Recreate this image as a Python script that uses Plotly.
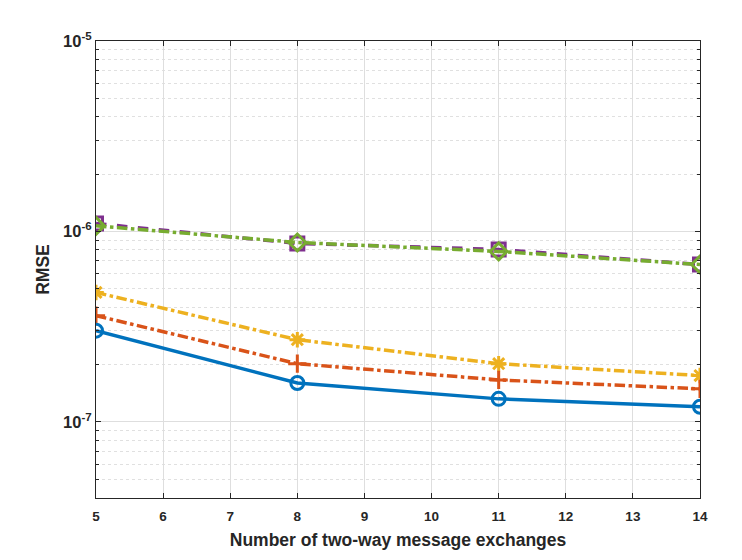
import plotly.graph_objects as go

exchanges = [5, 8, 11, 14]
rmse_blue = [3.01e-7, 1.60e-7, 1.32e-7, 1.20e-7]
rmse_orange = [3.61e-7, 2.02e-7, 1.66e-7, 1.49e-7]
rmse_yellow = [4.78e-7, 2.70e-7, 2.02e-7, 1.75e-7]
rmse_purple = [1.10e-6, 8.65e-7, 8.04e-7, 6.70e-7]
rmse_green = [1.07e-6, 8.75e-7, 7.85e-7, 6.70e-7]

y_tickvals = [1e-7, 1e-6, 1e-5]
y_ticktext = ["10<sup>-7</sup>", "10<sup>-6</sup>", "10<sup>-5</sup>"]

series = [
    (rmse_purple, "#7E2F8E", "dash", "square-open"),
    (rmse_green, "#77AC30", "dashdot", "diamond-open"),
    (rmse_yellow, "#EDB120", "dashdot", "asterisk-open"),
    (rmse_orange, "#D95319", "dashdot", "cross-thin-open"),
    (rmse_blue, "#0072BD", "solid", "circle-open"),
]

fig = go.Figure()
for vals, color, dash, symbol in series:
    fig.add_trace(go.Scatter(
        x=exchanges, y=vals, mode="lines+markers",
        line=dict(color=color, width=3.5, dash=dash),
        marker=dict(symbol=symbol, size=13, color=color,
                    line=dict(color=color, width=3)),
        showlegend=False,
    ))

family = "Liberation Sans, Arial, sans-serif"
# the page body adds an 8px margin, so the figure is sized to fit inside it
fig.update_layout(
    width=734, height=552,
    margin=dict(l=88, r=42, t=33, b=62),
    paper_bgcolor="white", plot_bgcolor="white",
    font=dict(size=13, family=family, color="#262626"),
)
fig.update_xaxes(
    range=[5, 14], dtick=1,
    title=dict(text="<b>Number of two-way message exchanges</b>", font=dict(size=17.5), standoff=10),
    tickfont=dict(size=13.5, family=family, color="#262626", weight="bold"),
    ticklabelstandoff=6,
    showline=True, linecolor="#262626", linewidth=1, mirror="ticks",
    ticks="inside", ticklen=5, tickcolor="#262626",
    showgrid=True, gridcolor="#dedede", gridwidth=1, zeroline=False,
)
fig.update_yaxes(
    type="log", range=[-7.4, -5],
    tickvals=y_tickvals, ticktext=y_ticktext,
    title=dict(text="<b>RMSE</b>", font=dict(size=17.5), standoff=8),
    tickfont=dict(size=16.5, family=family, color="#262626", weight="bold"),
    showline=True, linecolor="#262626", linewidth=1, mirror="ticks",
    ticks="inside", ticklen=5, tickcolor="#262626",
    showgrid=True, gridcolor="#dedede", gridwidth=1, zeroline=False,
    minor=dict(dtick="D1", ticks="inside", ticklen=3, tickcolor="#262626",
               showgrid=True, gridcolor="#e0e0e0", griddash="dot", gridwidth=1),
)

fig.write_html("out.html")
